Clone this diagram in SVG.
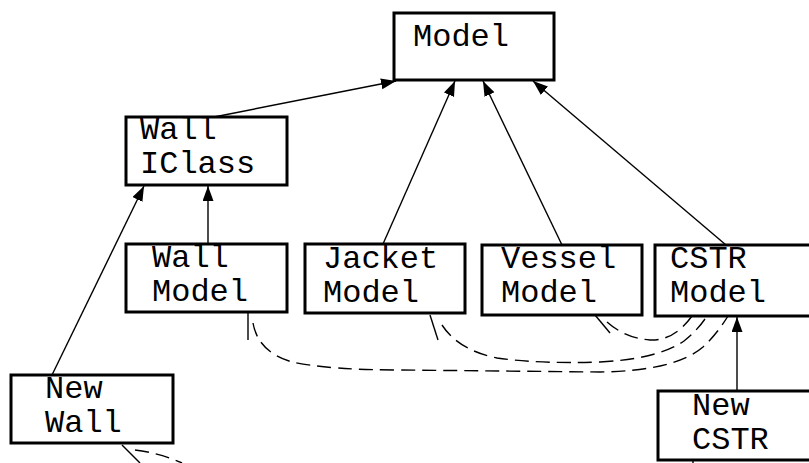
<svg xmlns="http://www.w3.org/2000/svg" width="809" height="463" viewBox="0 0 809 463">
  <style>
    .box { fill: #ffffff; stroke: #000000; stroke-width: 3; }
    .lbl { font-family: "Liberation Mono", "DejaVu Sans Mono", monospace; font-size: 32px; fill: #000000; }
    .inh { fill: none; stroke: #000000; stroke-width: 1.4; marker-end: url(#tri); }
    .dash { fill: none; stroke: #000000; stroke-width: 1.4; stroke-dasharray: 14 7; }
    .stub { fill: none; stroke: #000000; stroke-width: 1.4; }
  </style>
  <defs>
    <marker id="tri" markerUnits="userSpaceOnUse" markerWidth="16" markerHeight="12" refX="15" refY="5.5" orient="auto">
      <path d="M0,0 L15,5.5 L0,11 z" fill="#000000"/>
    </marker>
  </defs>
  <rect width="809" height="463" fill="#ffffff"/>

  <!-- connectors -->
  <g id="connectors">
    <line class="inh" x1="214" y1="117" x2="396" y2="81"/>
    <line class="inh" x1="383" y1="244" x2="455" y2="81"/>
    <line class="inh" x1="562" y1="245" x2="483" y2="81"/>
    <line class="inh" x1="726" y1="245" x2="533" y2="81"/>
    <line class="inh" x1="208" y1="244" x2="208" y2="186"/>
    <line class="inh" x1="52" y1="375" x2="144" y2="186"/>
    <line class="inh" x1="737" y1="391" x2="737" y2="317"/>

    <!-- dashed dependency links -->
    <line class="stub" x1="248" y1="313" x2="248" y2="340"/>
    <path class="dash" d="M253,323 Q258,352 292,362 Q330,370 400,370 L600,372 Q675,371 703,347 Q717,334 728,316"/>
    <line class="stub" x1="430" y1="315" x2="438" y2="340"/>
    <path class="dash" d="M442,325 Q458,350 497,358 Q540,364 600,362 Q658,359 684,341 Q698,330 707,316"/>
    <line class="stub" x1="595" y1="315" x2="610" y2="333"/>
    <path class="dash" d="M607,322 Q625,338 650,340 Q674,341 692,316"/>
    <line class="stub" x1="122" y1="445" x2="140" y2="463"/>
    <path class="dash" d="M135,450 Q160,453 182,463"/>
    <line class="stub" x1="693" y1="460" x2="693" y2="463"/>
  </g>

  <g id="model">
    <rect class="box" x="394" y="13" width="160" height="67"/>
    <text class="lbl" x="413" y="46">Model</text>
  </g>
  <g id="wall-iclass">
    <rect class="box" x="126" y="117" width="161" height="68"/>
    <text class="lbl" x="140" y="139">Wall</text>
    <text class="lbl" x="140" y="173">IClass</text>
  </g>
  <g id="wall-model">
    <rect class="box" x="126" y="244" width="161" height="68"/>
    <text class="lbl" x="152" y="267">Wall</text>
    <text class="lbl" x="152" y="301">Model</text>
  </g>
  <g id="jacket-model">
    <rect class="box" x="305" y="244" width="160" height="69"/>
    <text class="lbl" x="323" y="268">Jacket</text>
    <text class="lbl" x="323" y="302">Model</text>
  </g>
  <g id="vessel-model">
    <rect class="box" x="482" y="245" width="160" height="70"/>
    <text class="lbl" x="501" y="268">Vessel</text>
    <text class="lbl" x="501" y="302">Model</text>
  </g>
  <g id="cstr-model">
    <rect class="box" x="655" y="245" width="160" height="71"/>
    <text class="lbl" x="670" y="268">CSTR</text>
    <text class="lbl" x="670" y="302">Model</text>
  </g>
  <g id="new-wall">
    <rect class="box" x="11" y="375" width="162" height="68"/>
    <text class="lbl" x="45" y="398">New</text>
    <text class="lbl" x="45" y="432">Wall</text>
  </g>
  <g id="new-cstr">
    <rect class="box" x="658" y="391" width="160" height="69"/>
    <text class="lbl" x="692" y="415">New</text>
    <text class="lbl" x="692" y="449">CSTR</text>
  </g>
</svg>
